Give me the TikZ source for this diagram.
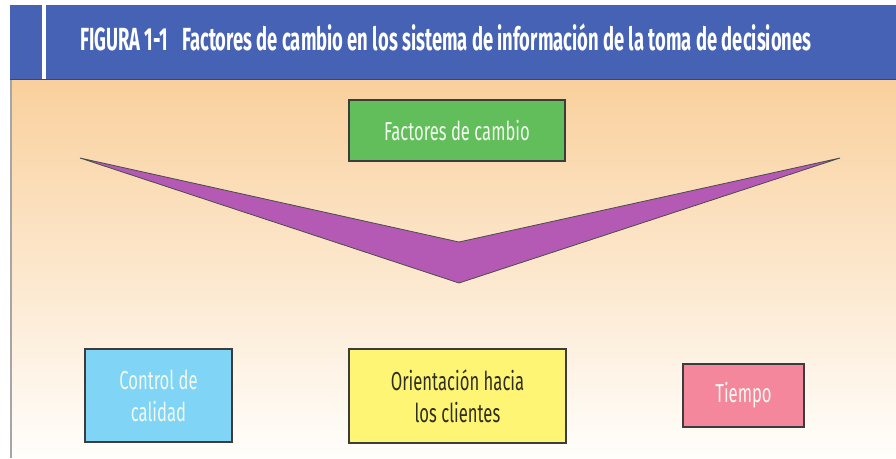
\documentclass[tikz,border=0pt]{standalone}
\usepackage{fontspec}
\setmainfont{Fira Sans}
\newfontfamily\titlefont[FakeStretch=0.575]{Fira Sans}
\newfontfamily\boxfont[FakeStretch=0.64]{Fira Sans}
\definecolor{hdrblue}{HTML}{4662B4}
\definecolor{bgtop}{HTML}{F9D09C}
\definecolor{bgmid}{HTML}{FCE8D0}
\definecolor{bgbot}{HTML}{FFFEFC}
\definecolor{boxgreen}{HTML}{62BE5A}
\definecolor{chevpurple}{HTML}{B45AB4}
\definecolor{boxblue}{HTML}{80D5F7}
\definecolor{boxyellow}{HTML}{FFF575}
\definecolor{boxpink}{HTML}{F4879C}
\definecolor{edgegray}{HTML}{3C3C3C}
\definecolor{lighttext}{HTML}{F2F8F0}
\definecolor{darktext}{HTML}{2E2E22}
\tikzset{
  factorbox/.style={draw=edgegray, line width=1.6pt, rectangle, align=center,
    inner sep=0pt, font=\boxfont\fontsize{26}{32}\selectfont},
}
\begin{document}
\begin{tikzpicture}[x=1pt,y=-1pt]
\useasboundingbox (0,0) rectangle (896,458);
\fill[white] (0,0) rectangle (896,458);
% background gradient
\shade[top color=bgtop, middle color=bgmid, bottom color=bgbot] (11,79) rectangle (896,458);
\draw[gray!70, line width=1.5pt] (11,79) -- (11,458);
% header
\fill[hdrblue] (10,5) rectangle (896,79);
\draw[hdrblue!70!black, line width=0.8pt] (10,79) -- (896,79);
\fill[white] (42,5) rectangle (46,79);
\node[anchor=base west, text=white, inner sep=0pt,
  font=\titlefont\bfseries\fontsize{32}{36}\selectfont] (title) at (80,50)
  {FIGURA 1-1\hspace{14pt}Factores de cambio en los sistema de información de la toma de decisiones};
% boxes
\node[factorbox, fill=boxgreen, text=lighttext, minimum width=216pt, minimum height=61pt] (fact) at (457,130.5) {Factores de cambio};
\node[factorbox, fill=boxblue, text=lighttext, minimum width=147pt, minimum height=93pt] (ctrl) at (158.5,395.5) {Control de\\calidad};
\node[factorbox, fill=boxyellow, text=darktext, minimum width=217pt, minimum height=94pt] (orient) at (457.5,396) {Orientación hacia\\los clientes};
\node[factorbox, fill=boxpink, text=lighttext, minimum width=121pt, minimum height=63pt] (tiempo) at (743.5,395.5) {Tiempo};
% chevron
\coordinate (cl) at (80,158);
\coordinate (cn) at (459,242);
\coordinate (cr) at (840,158);
\coordinate (cb) at (459,283);
\filldraw[fill=chevpurple, draw=black!70, line width=0.8pt, line join=miter] (cl) -- (cn) -- (cr) -- (cb) -- cycle;
\end{tikzpicture}
\end{document}
